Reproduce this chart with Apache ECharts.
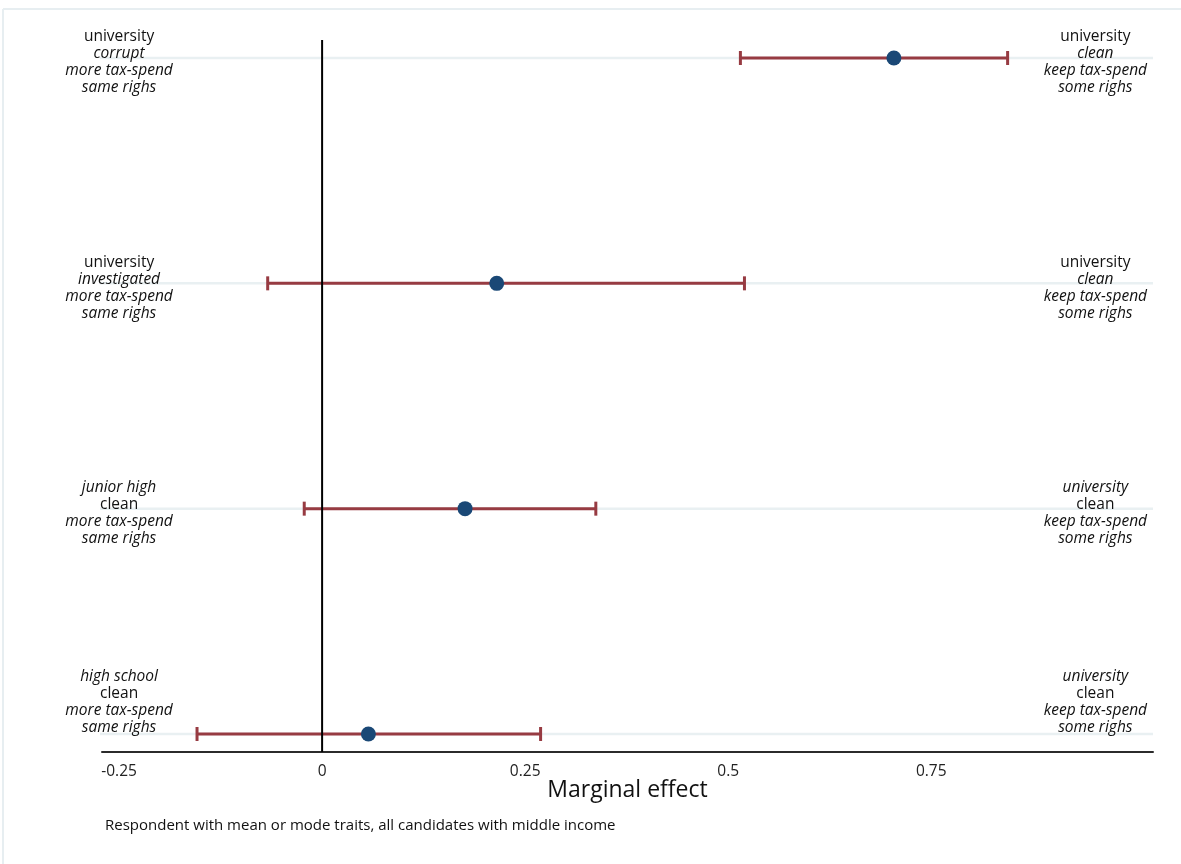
<!DOCTYPE html>
<html><head><meta charset="utf-8">
<script src="https://cdn.jsdelivr.net/npm/echarts@6/dist/echarts.min.js"></script>
<style>html,body{margin:0;padding:0;background:#fff}#chart{width:1181px;height:864px}</style>
</head><body><div id="chart"></div>
<script>
// ---- data ----
const rows = [1, 2, 3, 4];
const estimates = [0.704, 0.215, 0.176, 0.057];
const lowerCI = [0.515, -0.067, -0.022, -0.154];
const upperCI = [0.844, 0.520, 0.337, 0.269];
const tickValues = [-0.25, 0, 0.25, 0.5, 0.75];
const tickLabels = ['-0.25', '0', '0.25', '0.5', '0.75'];
const leftLabels = [
  ['university', 'corrupt', 'more tax-spend', 'same righs'],
  ['university', 'investigated', 'more tax-spend', 'same righs'],
  ['junior high', 'clean', 'more tax-spend', 'same righs'],
  ['high school', 'clean', 'more tax-spend', 'same righs']
];
const leftItalic = [[0,1,1,1],[0,1,1,1],[1,0,1,1],[1,0,1,1]];
const rightLabels = [
  ['university', 'clean', 'keep tax-spend', 'some righs'],
  ['university', 'clean', 'keep tax-spend', 'some righs'],
  ['university', 'clean', 'keep tax-spend', 'some righs'],
  ['university', 'clean', 'keep tax-spend', 'some righs']
];
const rightItalic = [[0,1,1,1],[0,1,1,1],[1,0,1,1],[1,0,1,1]];
const xTitle = 'Marginal effect';
const note = 'Respondent with mean or mode traits, all candidates with middle income';

// ---- layout constants ----
const X_MIN = -0.271, X_MAX = 1.023;
const Y_MIN = 0.92, Y_MAX = 4.08;
const LEFT_LABEL_X = -0.25, RIGHT_LABEL_X = 0.952;
const labelShift = [4.5, 4.5, 4.5, -31.5];
const FONT = '"Open Sans", Lato, sans-serif';

const chart = echarts.init(document.getElementById('chart'));

function labelRender(texts, italics) {
  return function (params, api) {
    const idx = params.dataIndex;
    const p = api.coord([api.value(0), api.value(1)]);
    const cy = p[1] + labelShift[idx];
    const children = texts[idx].map((t, i) => ({
      type: 'text',
      x: p[0], y: cy + (i - 1.5) * 17,
      style: {
        text: t, align: 'center', verticalAlign: 'middle',
        font: (italics[idx][i] ? 'italic ' : '') + '15.5px ' + FONT,
        fill: '#111'
      }
    }));
    return { type: 'group', children };
  };
}

const option = {
  animation: false,
  backgroundColor: '#fff',
  grid: { left: 102, right: 28, top: 40, bottom: 112, containLabel: false },
  xAxis: {
    type: 'value', min: X_MIN, max: X_MAX,
    axisLine: { show: true, lineStyle: { color: '#2b2b2b', width: 2 } },
    axisTick: { show: false },
    splitLine: { show: false },
    axisLabel: {
      customValues: tickValues,
      formatter: v => { const i = tickValues.findIndex(t => Math.abs(t - v) < 1e-9); return i >= 0 ? tickLabels[i] : ''; },
      fontSize: 15.5, color: '#222', fontFamily: FONT, margin: 12
    },
    name: xTitle, nameLocation: 'middle', nameGap: 27, nameMoveOverlap: false,
    nameTextStyle: { fontSize: 23, color: '#111', fontFamily: FONT, verticalAlign: 'top' }
  },
  yAxis: {
    type: 'value', min: Y_MIN, max: Y_MAX, inverse: true, show: false,
    splitLine: { show: false }
  },
  graphic: [
    { type: 'line', shape: { x1: 3, y1: 9, x2: 1181, y2: 9 }, style: { stroke: '#e7eef1', lineWidth: 2 } },
    { type: 'line', shape: { x1: 3, y1: 9, x2: 3, y2: 864 }, style: { stroke: '#e7eef1', lineWidth: 2 } },
    { type: 'text', left: 105, top: 818, style: { text: note, font: '15px ' + FONT, fill: '#111' } }
  ],
  series: [
    { // gridlines at each row
      type: 'custom', z: 1, silent: true,
      data: rows.map(r => [r]),
      encode: { y: 0 },
      renderItem: (params, api) => {
        const a = api.coord([X_MIN, api.value(0)]);
        const b = api.coord([X_MAX, api.value(0)]);
        return { type: 'line', shape: { x1: a[0] - 2, y1: a[1], x2: b[0], y2: b[1] }, style: { stroke: '#e9f0f2', lineWidth: 2.5 } };
      }
    },
    { // error bars
      type: 'custom', z: 3, silent: true,
      data: rows.map((r, i) => [lowerCI[i], upperCI[i], r]),
      encode: { x: [0, 1], y: 2 },
      renderItem: (params, api) => {
        const lo = api.coord([api.value(0), api.value(2)]);
        const hi = api.coord([api.value(1), api.value(2)]);
        const st = { stroke: '#973b42', lineWidth: 3 };
        return { type: 'group', children: [
          { type: 'line', shape: { x1: lo[0], y1: lo[1], x2: hi[0], y2: hi[1] }, style: st },
          { type: 'line', shape: { x1: lo[0], y1: lo[1] - 7, x2: lo[0], y2: lo[1] + 7 }, style: st },
          { type: 'line', shape: { x1: hi[0], y1: hi[1] - 7, x2: hi[0], y2: hi[1] + 7 }, style: st }
        ]};
      }
    },
    { // zero line
      type: 'custom', z: 4, silent: true,
      data: [[0]],
      encode: { x: 0 },
      renderItem: (params, api) => {
        const a = api.coord([api.value(0), Y_MIN]);
        const b = api.coord([api.value(0), Y_MAX]);
        return { type: 'line', shape: { x1: a[0], y1: a[1], x2: b[0], y2: b[1] }, style: { stroke: '#000', lineWidth: 2 } };
      }
    },
    { // point estimates
      type: 'scatter', z: 5, silent: true,
      data: rows.map((r, i) => [estimates[i], r]),
      symbol: 'circle', symbolSize: 15,
      itemStyle: { color: '#1a4876', opacity: 1 }
    },
    { // left labels
      type: 'custom', z: 6, silent: true,
      data: rows.map(r => [LEFT_LABEL_X, r]),
      encode: { x: 0, y: 1 },
      renderItem: labelRender(leftLabels, leftItalic)
    },
    { // right labels
      type: 'custom', z: 6, silent: true,
      data: rows.map(r => [RIGHT_LABEL_X, r]),
      encode: { x: 0, y: 1 },
      renderItem: labelRender(rightLabels, rightItalic)
    }
  ]
};
chart.setOption(option);
</script>
</body></html>
